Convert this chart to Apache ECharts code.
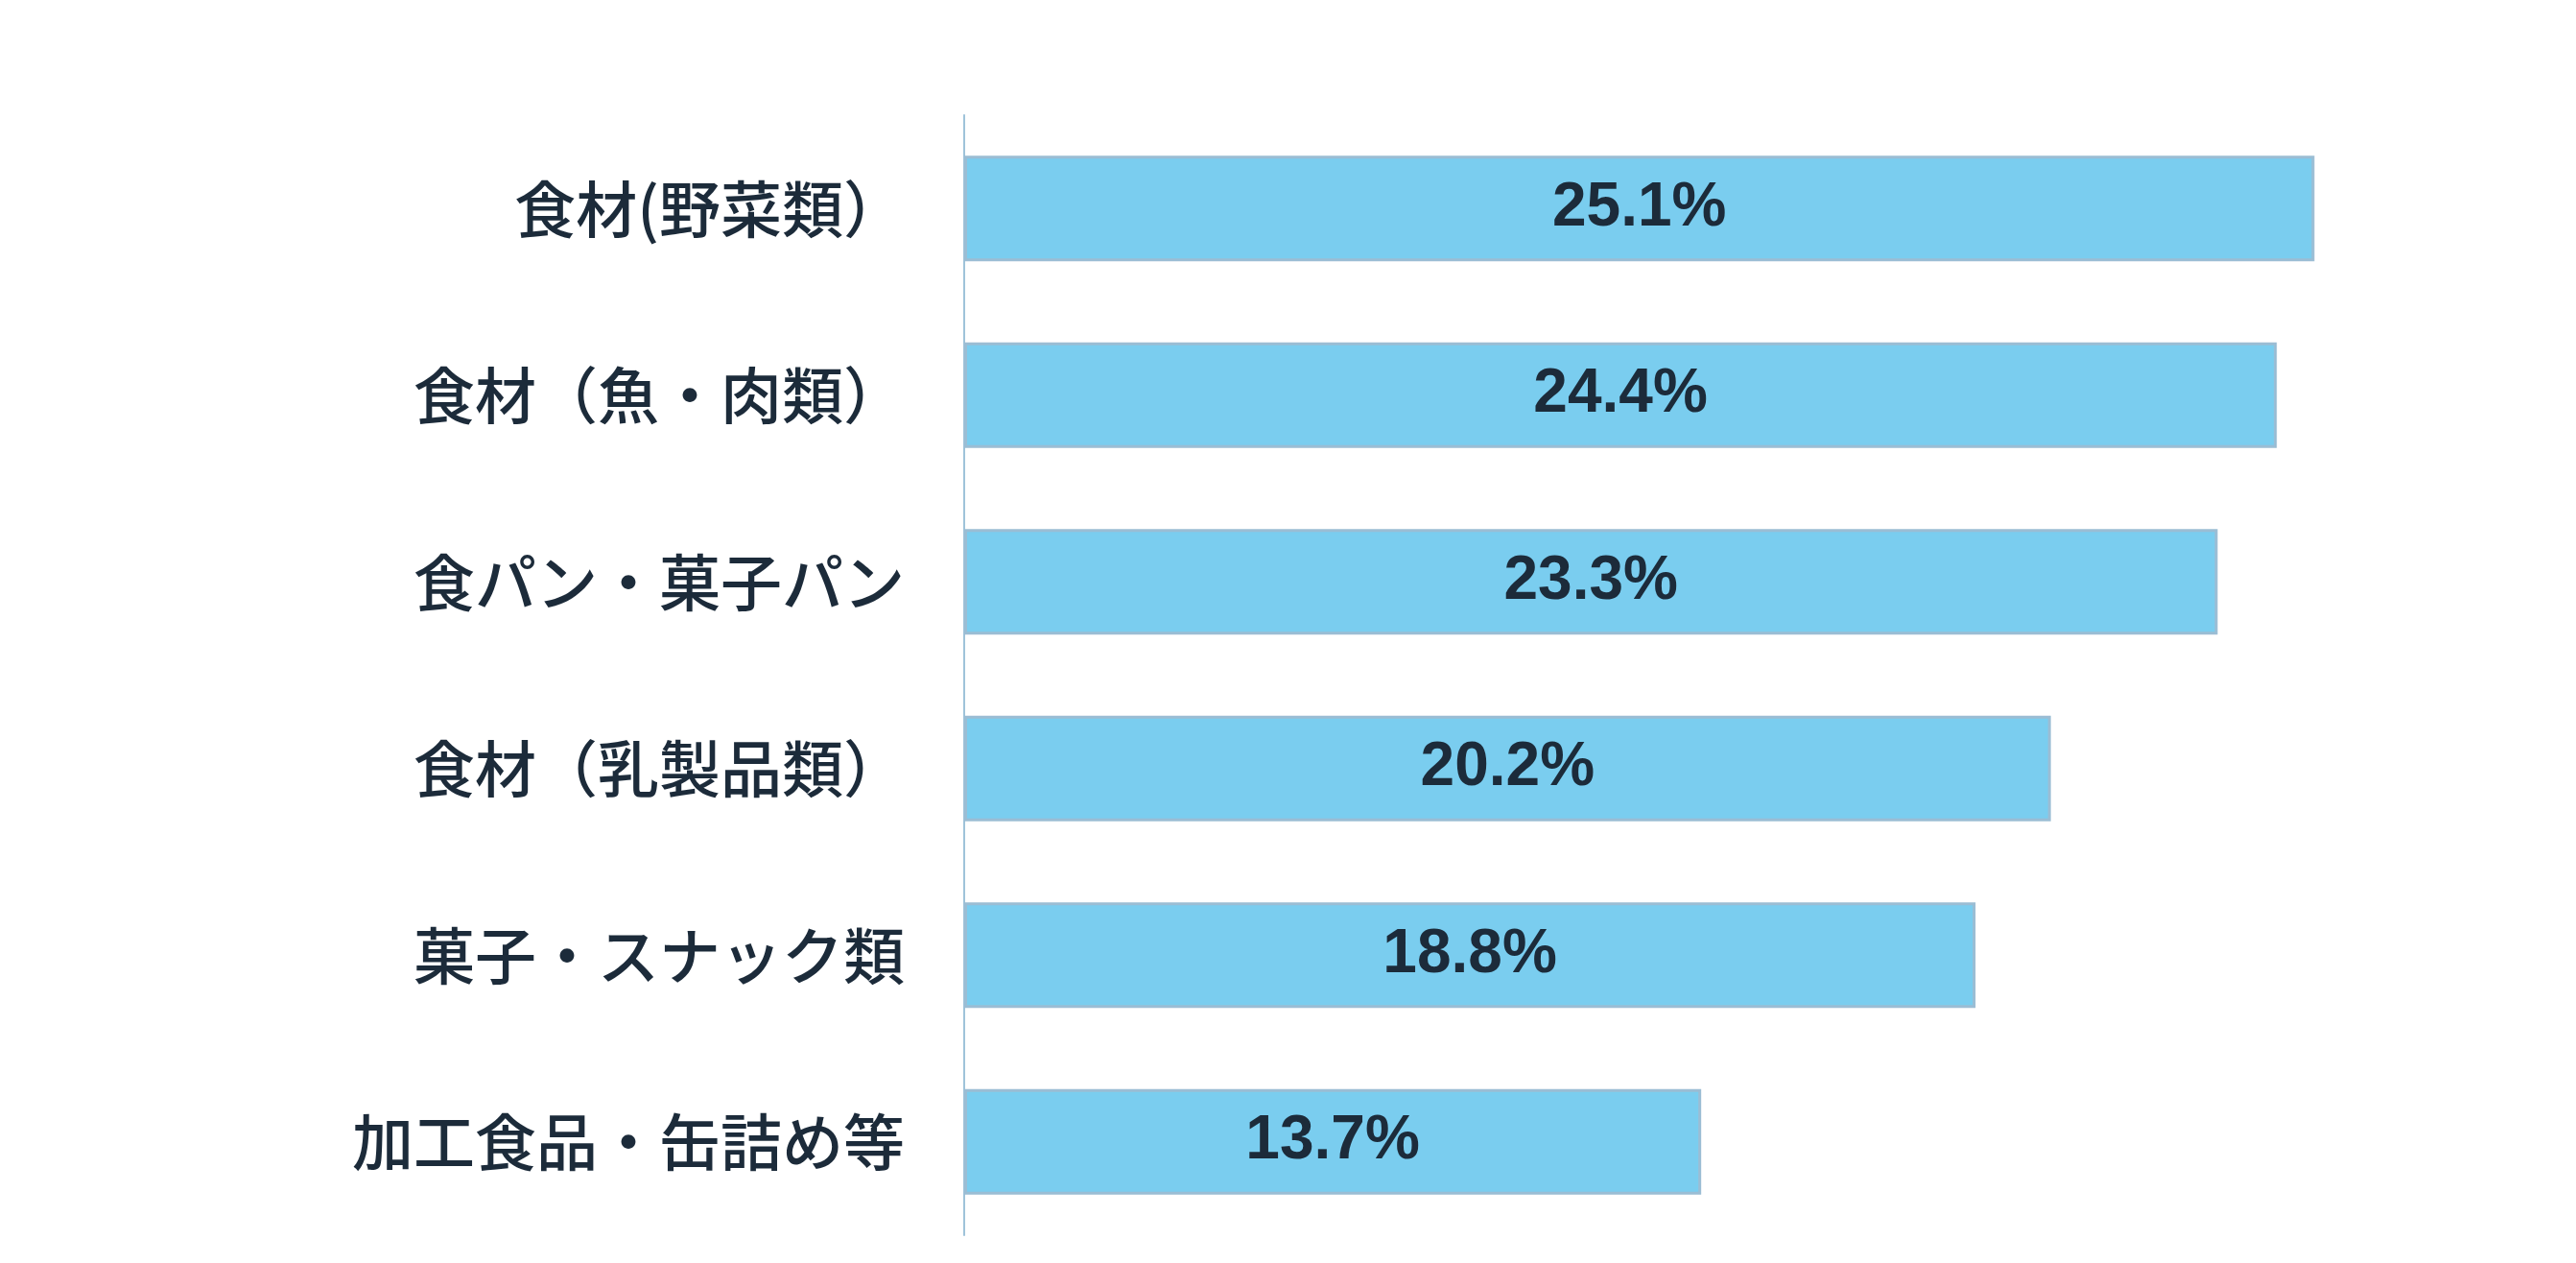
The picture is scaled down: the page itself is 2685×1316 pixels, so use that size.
<!DOCTYPE html>
<html>
<head>
<meta charset="utf-8">
<title>bar</title>
<script src="https://cdn.jsdelivr.net/npm/echarts@6/dist/echarts.min.js"></script>
<style>
  html, body { margin: 0; padding: 0; background: #fff; }
  #chart { width: 2685px; height: 1316px; }
</style>
</head>
<body>
<div id="chart"></div>
<script>
// カテゴリと値
var categories = [
  "食材(野菜類）",
  "食材（魚・肉類）",
  "食パン・菓子パン",
  "食材（乳製品類）",
  "菓子・スナック類",
  "加工食品・缶詰め等"
];
var values = [25.1, 24.4, 23.3, 20.2, 18.8, 13.7];

(function() {
  var myChart = echarts.init(document.getElementById("chart"));
  var option = {
    animation: false,
    grid: {
      left: 1005,
      right: 110,
      top: 120,
      bottom: 29
    },
    xAxis: {
      type: "value",
      min: 0,
      max: 28,
      show: false
    },
    yAxis: {
      type: "category",
      data: categories,
      inverse: true,
      axisTick: { show: false },
      axisLine: {
        lineStyle: { color: "#9fc3da", width: 2 }
      },
      axisLabel: {
        color: "#1c2b3a",
        fontSize: 64,
        fontWeight: 500,
        fontFamily: "Noto Sans CJK JP",
        margin: 62
      }
    },
    series: [
      {
        type: "bar",
        data: values,
        barWidth: 110,
        itemStyle: {
          color: "#7acdef",
          borderColor: "#9bbdd4",
          borderWidth: 3
        },
        label: {
          show: true,
          position: "inside",
          formatter: "{c}%",
          color: "#1c2b3a",
          fontSize: 64,
          fontWeight: "bold",
          fontFamily: "Liberation Sans"
        }
      }
    ]
  };
  myChart.setOption(option);
  window.addEventListener("resize", function() {
    myChart.resize();
  });
})();
</script>
</body>
</html>
